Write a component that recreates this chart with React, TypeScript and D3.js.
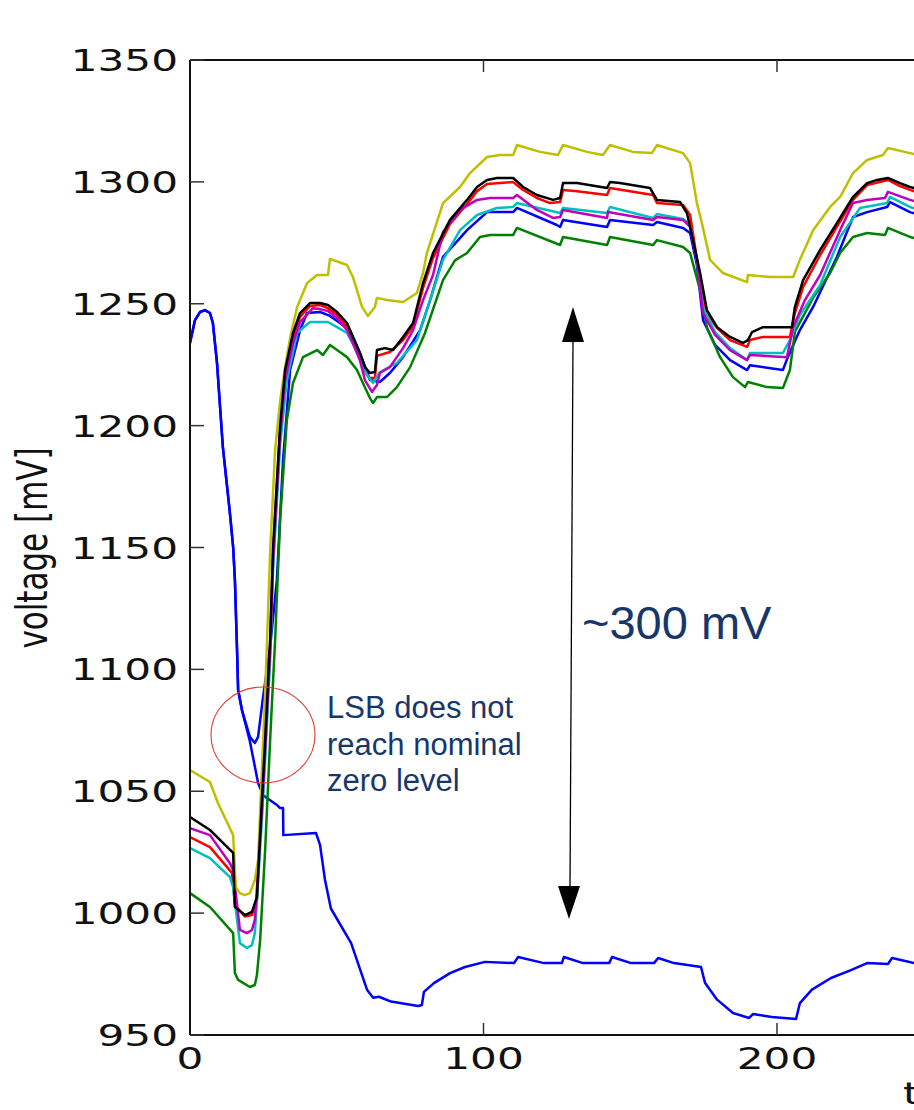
import React from "react";
import * as d3 from "d3";

// ---- data (time, voltage [mV]) ----
const xTicks = [0, 100, 200];
const yTicks = [950, 1000, 1050, 1100, 1150, 1200, 1250, 1300, 1350];

const blueLow: [number, number][] = [
  [0, 1233.9], [1.7, 1243.3], [3.4, 1246.6], [5.1, 1247.4], [6.8, 1246.2], [7.8, 1242.1], [9.2, 1225.7],
  [11.2, 1191.2], [13.6, 1164.1], [14.7, 1150.2], [15.3, 1136.7], [16.0, 1109.2], [16.4, 1091.5], [17.7, 1083.3],
  [20.4, 1070.5], [23.2, 1053.4], [24.9, 1048.4], [29.6, 1044.4], [30.7, 1043.1], [31.7, 1043.1], [31.8, 1032.0],
  [42.9, 1032.9], [44.3, 1028.0], [46.0, 1013.6], [48.0, 1001.9], [54.9, 987.7], [60.3, 968.6], [62.4, 965.3],
  [64.4, 965.7], [68.5, 963.7], [77.7, 961.9], [79.0, 962.3], [79.7, 967.7], [83.1, 971.3], [88.6, 975.4],
  [93.7, 977.9], [100.5, 980.0], [110.4, 979.5], [111.8, 982.0], [120.6, 979.5], [126.7, 979.5], [127.4, 982.0],
  [133.9, 979.5], [142.8, 979.5], [143.8, 982.0], [150.3, 979.5], [158.1, 979.5], [159.5, 981.6], [164.9, 979.5],
  [174.1, 977.9], [175.5, 971.3], [179.6, 964.5], [185.0, 959.0], [190.5, 957.0], [191.8, 958.6], [198.3, 957.4],
  [206.5, 956.6], [207.8, 963.1], [211.9, 968.6], [218.4, 973.4], [225.2, 976.6], [230.7, 979.5], [237.8, 979.1],
  [239.2, 981.6], [246.7, 979.5], [250, 978.5],
];

const blueLsb: [number, number][] = [
  [0, 1233.9], [1.7, 1243.3], [3.4, 1246.6], [5.1, 1247.4], [6.8, 1246.2], [7.8, 1242.1], [9.2, 1225.7],
  [11.2, 1191.2], [13.6, 1164.1], [14.7, 1150.2], [15.3, 1136.7], [16.0, 1109.2], [16.4, 1091.5], [17.7, 1083.3],
  [20.4, 1072.3], [22.1, 1069.8], [23.2, 1072.3], [24.9, 1088.7], [27.3, 1109.2], [29.6, 1136.7], [31.7, 1185.9],
  [34.1, 1222.8], [37.5, 1239.2], [39.9, 1246.2], [44.3, 1246.6], [47.7, 1245.0], [54.5, 1239.2], [57.9, 1229.8],
  [61.3, 1218.7], [64.7, 1217.9], [68.1, 1221.6], [72.6, 1228.1], [78.4, 1239.2], [81.8, 1251.5], [86.2, 1269.2],
  [94.4, 1280.2], [101.2, 1287.6], [110.1, 1287.6], [111.4, 1289.3], [125.0, 1282.3], [126.1, 1281.5],
  [127.1, 1284.4], [142.1, 1281.5], [143.1, 1284.4], [157.8, 1282.3], [159.1, 1283.5], [168.0, 1281.1],
  [170.4, 1279.0], [172.7, 1265.9], [174.8, 1243.3], [178.9, 1233.1], [184.0, 1226.9], [189.8, 1222.8],
  [190.8, 1224.8], [202.0, 1222.8], [203.7, 1228.1], [207.8, 1239.2], [212.3, 1248.7], [220.4, 1269.2],
  [225.9, 1285.6], [230.7, 1287.6], [237.5, 1289.7], [238.5, 1291.7], [245.3, 1287.6], [250, 1286],
];

const green: [number, number][] = [
  [0, 1008.2], [6.8, 1002.5], [14.7, 991.8], [15.3, 975.4], [16.4, 972.6], [20.4, 969.7], [22.1, 970.5],
  [22.8, 974.6], [23.9, 988.9], [25.6, 1025.9], [27.3, 1071.0], [29.0, 1112.0], [30.7, 1161.3], [33.0, 1202.3],
  [35.1, 1217.5], [38.5, 1228.1], [43.3, 1231.0], [45.3, 1229.0], [47.7, 1233.1], [50.1, 1231.0], [53.5, 1228.1],
  [56.9, 1222.8], [58.9, 1217.5], [61.3, 1211.3], [62.4, 1209.3], [63.7, 1211.7], [67.1, 1211.7], [70.5, 1215.8],
  [75.0, 1224.0], [80.0, 1237.8], [86.2, 1259.7], [90.3, 1267.8], [94.4, 1270.8], [98.8, 1277.4], [102.2, 1278.2],
  [110.1, 1278.2], [111.4, 1281.1], [126.1, 1274.1], [127.1, 1277.4], [142.1, 1274.1], [143.1, 1277.4],
  [157.8, 1274.1], [159.1, 1276.1], [168.0, 1273.3], [170.4, 1270.8], [173.8, 1255.6], [176.1, 1240.4],
  [180.6, 1228.1], [185.0, 1219.9], [189.1, 1215.8], [190.1, 1217.9], [196.6, 1215.8], [202.0, 1215.4],
  [204.4, 1222.8], [206.1, 1238.6], [212.3, 1252.4], [218.1, 1262.6], [221.5, 1270.8], [225.9, 1277.4],
  [230.7, 1279.0], [236.8, 1278.2], [237.8, 1281.1], [245.3, 1277.4], [250, 1276],
];

const red: [number, number][] = [
  [0, 1031.2], [6.8, 1027.1], [14.3, 1016.5], [15.3, 1003.3], [18.7, 998.6], [21.1, 999.2], [22.8, 1005.4],
  [24.5, 1044.4], [25.6, 1069.0], [27.3, 1110.0], [28.3, 1147.7], [30.7, 1198.2], [32.4, 1220.8], [35.1, 1236.4],
  [37.5, 1244.6], [40.9, 1249.1], [44.3, 1249.5], [47.0, 1248.2], [50.1, 1245.4], [53.5, 1240.4], [55.5, 1235.1],
  [57.9, 1228.1], [59.6, 1222.0], [61.3, 1219.5], [63.0, 1219.5], [63.7, 1228.6], [68.1, 1230.2], [72.6, 1235.1],
  [76.0, 1240.9], [79.4, 1256.5], [82.8, 1268.8], [88.6, 1282.7], [94.4, 1290.9], [97.8, 1296.2], [101.2, 1299.1],
  [110.1, 1299.9], [113.5, 1296.7], [118.2, 1293.4], [122.7, 1291.3], [126.1, 1291.7], [127.1, 1296.7],
  [131.9, 1296.2], [142.1, 1294.6], [143.1, 1297.5], [157.8, 1294.6], [159.1, 1291.3], [168.0, 1290.5],
  [170.4, 1286.4], [173.8, 1259.7], [176.1, 1246.2], [179.6, 1240.0], [184.0, 1235.1], [189.8, 1232.3],
  [190.8, 1235.1], [195.2, 1236.4], [204.4, 1236.4], [206.1, 1246.2], [208.9, 1256.9], [214.7, 1270.0],
  [220.4, 1281.5], [225.9, 1292.6], [230.7, 1298.7], [237.8, 1300.8], [241.9, 1298.3], [245.3, 1296.7], [250, 1295],
];

const cyan: [number, number][] = [
  [0, 1026.7], [6.8, 1022.6], [13.6, 1014.8], [14.7, 1010.7], [17.0, 987.7], [19.4, 985.7], [21.1, 986.9],
  [22.1, 991.8], [24.5, 1038.2], [25.6, 1062.8], [27.3, 1103.9], [28.3, 1140.8], [30.7, 1192.0], [33.0, 1218.7],
  [36.5, 1238.0], [40.9, 1242.5], [47.0, 1242.5], [50.1, 1240.4], [53.5, 1238.0], [57.9, 1228.1], [60.3, 1220.7],
  [62.4, 1217.5], [64.7, 1222.0], [70.5, 1225.7], [77.3, 1235.1], [80.7, 1247.4], [86.2, 1268.0], [92.0, 1280.2],
  [97.8, 1286.4], [104.6, 1289.3], [110.1, 1289.7], [111.4, 1291.3], [126.1, 1287.2], [127.1, 1289.3],
  [142.1, 1287.2], [143.1, 1289.7], [157.8, 1285.2], [159.1, 1286.8], [168.0, 1284.8], [170.4, 1282.3],
  [172.7, 1268.0], [174.8, 1248.7], [178.9, 1238.4], [184.0, 1231.8], [189.8, 1226.9], [190.8, 1229.8],
  [202.0, 1229.8], [204.4, 1235.1], [207.8, 1245.4], [214.7, 1257.7], [221.5, 1277.4], [228.3, 1289.3],
  [237.5, 1291.3], [238.5, 1293.8], [245.3, 1289.7], [250, 1288],
];

const magenta: [number, number][] = [
  [0, 1034.9], [6.8, 1032.0], [13.6, 1020.5], [14.7, 1017.7], [17.0, 993.1], [19.4, 991.8], [21.1, 993.1],
  [22.1, 997.2], [24.5, 1042.3], [25.6, 1066.9], [27.3, 1108.0], [28.3, 1144.9], [30.7, 1196.1], [32.4, 1218.7],
  [35.1, 1233.9], [37.5, 1242.5], [41.9, 1248.2], [44.3, 1247.8], [47.0, 1247.0], [50.1, 1244.1], [53.5, 1239.2],
  [55.5, 1233.9], [57.9, 1226.7], [59.6, 1218.7], [62.0, 1213.8], [63.7, 1216.7], [64.7, 1221.6], [68.1, 1224.0],
  [72.6, 1231.8], [76.0, 1239.2], [79.4, 1251.5], [82.8, 1261.8], [86.2, 1279.4], [92.0, 1288.5], [97.8, 1292.6],
  [102.2, 1293.4], [110.1, 1293.4], [111.4, 1294.6], [118.2, 1288.5], [123.7, 1285.2], [126.1, 1285.6],
  [127.1, 1288.5], [142.1, 1285.2], [142.4, 1287.6], [157.8, 1284.4], [159.1, 1285.6], [168.0, 1284.4],
  [170.4, 1281.5], [172.7, 1268.0], [174.8, 1246.2], [178.9, 1237.2], [184.0, 1231.0], [189.8, 1226.9],
  [190.8, 1229.0], [203.4, 1228.1], [205.5, 1240.4], [209.5, 1251.5], [214.7, 1261.8], [221.5, 1280.2],
  [225.9, 1291.3], [230.7, 1292.6], [236.8, 1293.4], [237.8, 1295.9], [245.3, 1292.6], [250, 1291],
];

const yellow: [number, number][] = [
  [0, 1058.7], [6.8, 1053.8], [9.5, 1045.2], [14.7, 1032.0], [15.6, 1010.7], [17.0, 1008.2], [18.7, 1007.4],
  [20.4, 1008.2], [22.1, 1013.6], [23.2, 1021.8], [25.6, 1090.0], [27.3, 1148.0], [29.0, 1190.0], [30.7, 1210.0],
  [32.4, 1224.0], [34.1, 1236.0], [36.5, 1248.7], [39.9, 1258.5], [43.3, 1261.8], [47.0, 1261.8], [47.7, 1268.4],
  [53.5, 1265.9], [55.5, 1261.0], [58.6, 1248.7], [60.6, 1245.0], [63.0, 1248.7], [63.7, 1252.4], [67.1, 1251.5],
  [72.6, 1250.7], [77.3, 1254.4], [79.4, 1262.6], [80.7, 1270.8], [86.2, 1291.3], [92.0, 1297.9], [95.4, 1303.6],
  [101.2, 1310.2], [105.6, 1311.0], [110.1, 1311.0], [111.4, 1315.1], [119.3, 1312.3], [125.4, 1311.0],
  [127.1, 1315.1], [135.3, 1312.3], [140.7, 1311.0], [143.1, 1315.1], [150.9, 1312.3], [157.4, 1311.8],
  [159.1, 1315.1], [168.0, 1311.8], [170.4, 1307.7], [172.7, 1291.3], [174.4, 1283.1], [177.2, 1268.0],
  [181.6, 1262.6], [189.8, 1258.9], [190.1, 1261.8], [197.6, 1261.0], [205.5, 1261.0], [207.8, 1268.0],
  [212.3, 1280.2], [218.1, 1289.7], [221.5, 1293.8], [225.9, 1303.6], [230.7, 1309.0], [236.1, 1311.0],
  [237.8, 1313.9], [245.3, 1311.8], [250, 1310.5],
];

const black: [number, number][] = [
  [0, 1039.4], [6.8, 1034.1], [14.7, 1024.7], [15.3, 1002.5], [18.7, 999.2], [21.1, 1000.5], [22.8, 1006.6],
  [24.5, 1046.4], [25.6, 1071.0], [27.3, 1112.0], [28.3, 1149.8], [30.7, 1199.8], [32.4, 1222.8], [35.1, 1238.0],
  [37.5, 1246.2], [40.9, 1250.3], [44.3, 1250.3], [47.0, 1249.5], [50.1, 1246.6], [53.5, 1242.1], [55.5, 1236.4],
  [57.9, 1229.8], [59.6, 1224.0], [61.3, 1221.6], [63.0, 1222.0], [63.7, 1231.0], [66.4, 1231.8], [69.2, 1231.0],
  [72.6, 1236.4], [76.0, 1242.1], [79.4, 1258.5], [82.8, 1270.8], [88.6, 1284.4], [94.4, 1292.6], [97.8, 1297.9],
  [101.2, 1300.8], [104.6, 1301.6], [110.1, 1301.6], [113.5, 1297.9], [118.2, 1294.6], [123.7, 1292.6],
  [126.1, 1293.4], [127.1, 1299.5], [131.9, 1299.5], [142.1, 1297.5], [143.1, 1299.9], [146.5, 1299.5],
  [156.7, 1297.5], [159.1, 1292.6], [167.0, 1291.7], [169.3, 1287.2], [171.4, 1276.1], [173.8, 1262.6],
  [176.1, 1247.4], [179.6, 1240.4], [184.0, 1236.4], [188.4, 1233.9], [190.1, 1235.1], [191.5, 1238.4],
  [195.2, 1240.4], [205.1, 1240.4], [206.1, 1248.7], [208.9, 1259.7], [214.7, 1272.1], [220.4, 1283.1],
  [225.9, 1293.8], [230.7, 1299.5], [234.1, 1300.8], [237.8, 1301.6], [241.9, 1299.5], [245.3, 1297.9], [250, 1296.5],
];

const seriesList = [
  { name: "blueLow", data: blueLow, color: "#0000ff" },
  { name: "blueLsb", data: blueLsb, color: "#0000ff" },
  { name: "green", data: green, color: "#008000" },
  { name: "red", data: red, color: "#ff0000" },
  { name: "cyan", data: cyan, color: "#00bfbf" },
  { name: "magenta", data: magenta, color: "#bf00bf" },
  { name: "yellow", data: yellow, color: "#bfbf00" },
  { name: "black", data: black, color: "#000000" },
];

const W = 914;
const H = 1110;
const L = 190, T = 60, B = 1035;
const SX = 1.36;
const TICKFONT = "'DejaVu Sans', sans-serif";
const NOTEFONT = "'Liberation Sans', Arial, sans-serif";
const NAVY = "#17376a";

export default function App() {
  const x = d3.scaleLinear().domain([0, 300]).range([L, L + 880.5]);
  const y = d3.scaleLinear().domain([950, 1350]).range([B, T]);
  const line = d3
    .line<[number, number]>()
    .x((d) => x(d[0]))
    .y((d) => y(d[1]));

  return (
    <svg
      width={W}
      height={H}
      style={{ position: "absolute", left: 0, top: 0, display: "block", background: "#fff" }}
    >
      <defs>
        <clipPath id="plot">
          <rect x={L} y={T} width={900} height={B - T} />
        </clipPath>
      </defs>
      <rect x={0} y={0} width={W} height={H} fill="#fff" />

      <g clipPath="url(#plot)" fill="none" strokeLinejoin="round" strokeLinecap="round">
        {seriesList.map((s) => (
          <path key={s.name} d={line(s.data) || ""} stroke={s.color} strokeWidth={2.5} />
        ))}
      </g>

      {/* spines */}
      <g stroke="#111" strokeWidth={2} fill="none">
        <line x1={L} y1={T} x2={L} y2={B} />
        <line x1={L} y1={T} x2={W} y2={T} />
        <line x1={L} y1={B} x2={W} y2={B} />
      </g>

      {/* y ticks */}
      {yTicks.map((v) => (
        <g key={"y" + v}>
          <line x1={L} x2={L + 14} y1={y(v)} y2={y(v)} stroke="#333" strokeWidth={1.5} />
          <text
            transform={`translate(${L - 12},${y(v) + 11}) scale(${SX},1)`}
            textAnchor="end"
            fontFamily={TICKFONT}
            fontSize={31}
            fill="#111"
          >
            {v}
          </text>
        </g>
      ))}

      {/* x ticks */}
      {xTicks.map((v) => (
        <g key={"x" + v}>
          {v > 0 && (
            <>
              <line x1={x(v)} x2={x(v)} y1={B} y2={B - 12} stroke="#333" strokeWidth={1.5} />
              <line x1={x(v)} x2={x(v)} y1={T} y2={T + 12} stroke="#333" strokeWidth={1.5} />
            </>
          )}
          <text
            transform={`translate(${x(v)},${B + 34}) scale(${SX},1)`}
            textAnchor="middle"
            fontFamily={TICKFONT}
            fontSize={31}
            fill="#111"
          >
            {v}
          </text>
        </g>
      ))}

      {/* axis labels */}
      <text
        transform={`translate(47,548) scale(${SX},1) rotate(-90)`}
        textAnchor="middle"
        fontFamily={TICKFONT}
        fontSize={31}
        fill="#111"
      >
        voltage [mV]
      </text>
      <text
        transform={`translate(903,1104) scale(${SX},1)`}
        fontFamily={TICKFONT}
        fontSize={31}
        fill="#111"
      >
        time [ns]
      </text>

      {/* annotation: double arrow */}
      <line x1={573} y1={340} x2={570} y2={888} stroke="#000" strokeWidth={1.3} />
      <polygon points="573,307 562,342 584,342" fill="#000" />
      <polygon points="569,919 558,886 580,886" fill="#000" />
      <text x={582} y={639} fontFamily={NOTEFONT} fontSize={47} fill={NAVY}>
        ~300 mV
      </text>

      {/* annotation: LSB */}
      <ellipse cx={263} cy={735} rx={52} ry={48} fill="none" stroke="#e53935" strokeWidth={1.1} />
      <g fontFamily={NOTEFONT} fontSize={31} fill={NAVY}>
        <text x={327} y={718}>LSB does not</text>
        <text x={327} y={755}>reach nominal</text>
        <text x={327} y={791}>zero level</text>
      </g>
    </svg>
  );
}
